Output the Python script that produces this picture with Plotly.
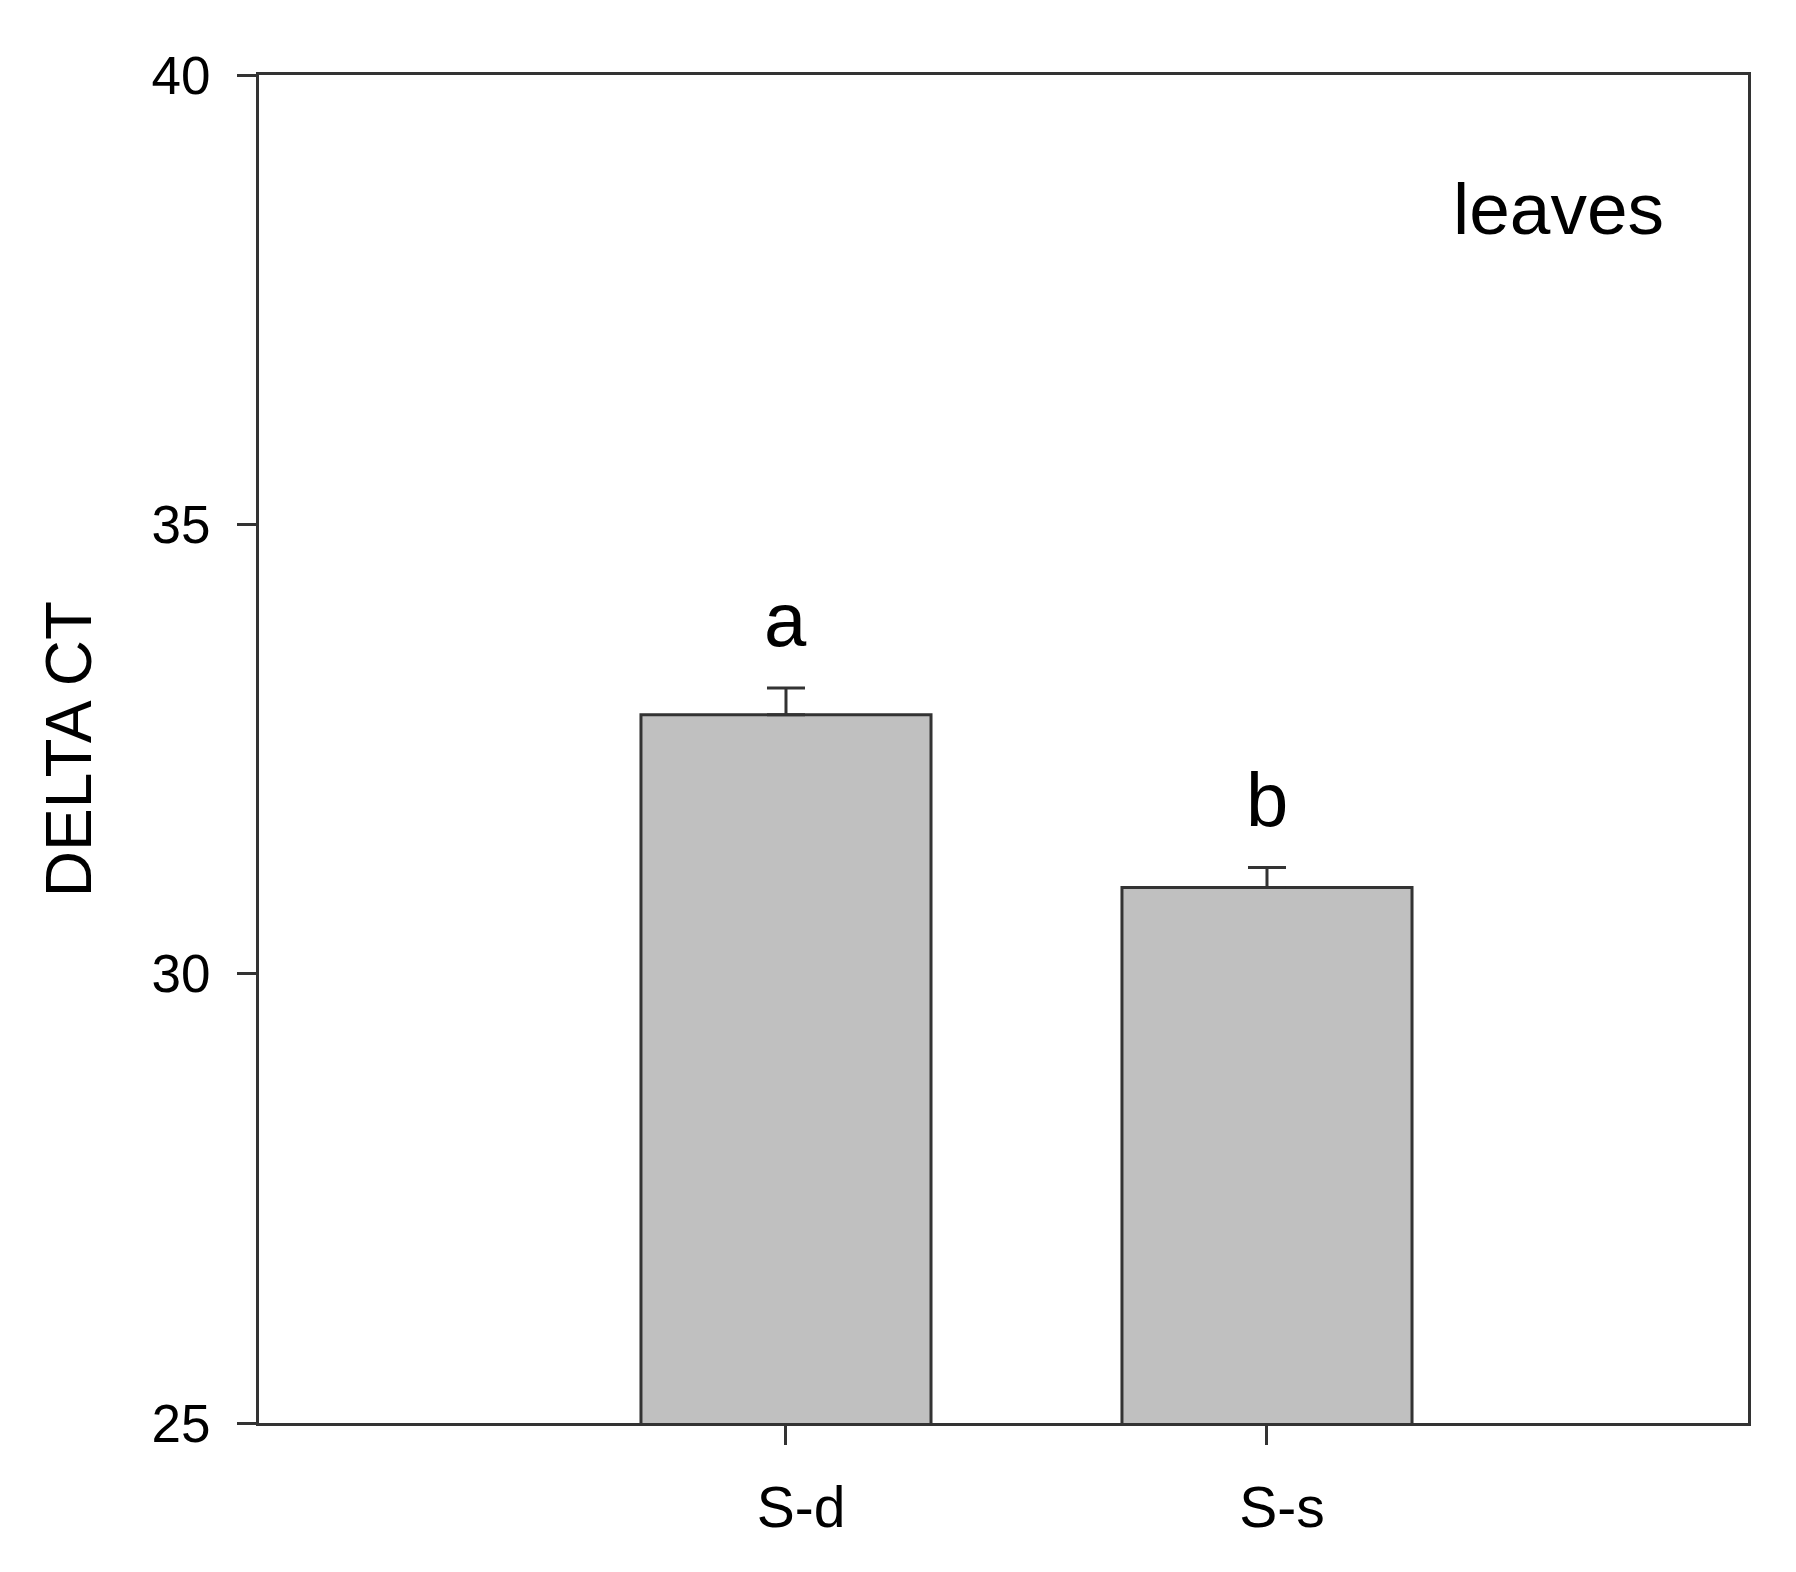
import plotly.graph_objects as go

categories = ["S-d", "S-s"]
positions = [1, 2]
values = [32.88, 30.96]
errors = [0.30, 0.22]
letters = ["a", "b"]
y_ticks = [25, 30, 35, 40]

FONT = "Liberation Sans, Arial, sans-serif"
AXIS_COLOR = "#333333"

fig = go.Figure()
fig.add_trace(go.Bar(
    x=positions,
    y=values,
    width=0.603,
    marker=dict(color="#c0c0c0", line=dict(color=AXIS_COLOR, width=3)),
    error_y=dict(type="data", symmetric=False, array=errors,
                 arrayminus=[0] * len(errors),
                 color=AXIS_COLOR, thickness=3, width=19),
    showlegend=False,
))

for xp, v, e, t in zip(positions, values, errors, letters):
    fig.add_annotation(x=xp, y=v + e, text=t, showarrow=False,
                       yanchor="bottom", yshift=24,
                       font=dict(family=FONT, size=76, color="black"))

fig.add_annotation(xref="paper", yref="paper", x=0.873, y=0.901,
                   text="leaves", showarrow=False,
                   xanchor="center", yanchor="middle",
                   font=dict(family=FONT, size=73, color="black"))

fig.update_layout(
    width=1788, height=1564,
    margin=dict(l=251, r=48, t=67, b=149),
    paper_bgcolor="white", plot_bgcolor="white",
    font=dict(family=FONT, color="black"),
    xaxis=dict(range=[-0.0956, 3.0], tickvals=positions, ticktext=categories,
               showgrid=False, zeroline=False,
               showline=True, linecolor=AXIS_COLOR, linewidth=3, mirror=True,
               ticks="outside", ticklen=19, tickwidth=3, tickcolor=AXIS_COLOR,
               ticklabelstandoff=14, ticklabelshift=15,
               tickfont=dict(family=FONT, size=57, color="black")),
    yaxis=dict(range=[25, 40], tickvals=y_ticks,
               showgrid=False, zeroline=False,
               showline=True, linecolor=AXIS_COLOR, linewidth=3, mirror=True,
               ticks="outside", ticklen=19, tickwidth=3, tickcolor=AXIS_COLOR,
               ticklabelstandoff=16,
               tickfont=dict(family=FONT, size=53, color="black"),
               title=dict(text="DELTA CT", standoff=40,
                          font=dict(family=FONT, size=64, color="black"))),
)

fig.write_html("out.html")
